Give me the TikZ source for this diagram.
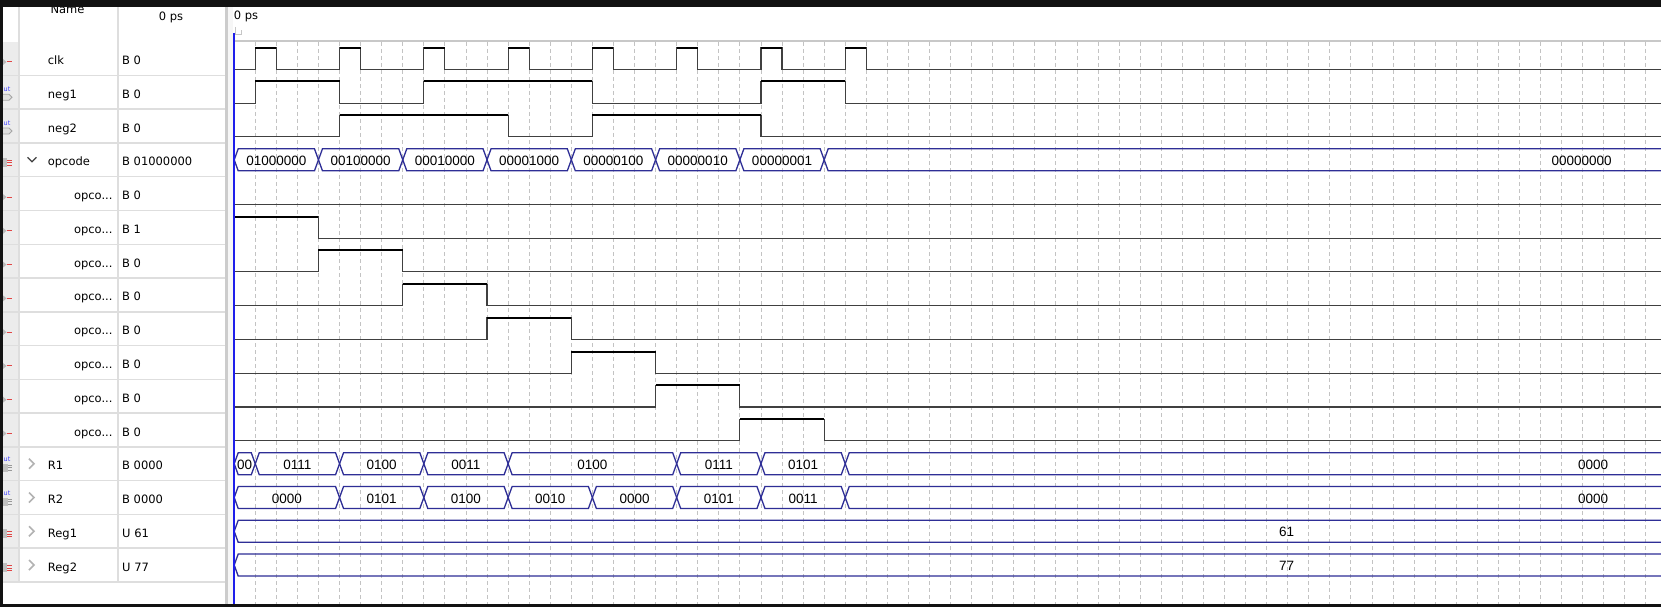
\documentclass[tikz,border=0pt]{standalone}
\usepackage{fontspec}
\setmainfont{DejaVu Sans}
\newfontfamily\wavefont{Liberation Sans}
\definecolor{busblue}{RGB}{46,46,150}
\definecolor{cursorblue}{RGB}{30,30,235}
\definecolor{gridgray}{RGB}{195,195,195}
\definecolor{sepgray}{RGB}{222,222,222}
\definecolor{icongray}{RGB}{236,236,236}
\definecolor{lowgray}{RGB}{64,64,64}
\definecolor{iconred}{RGB}{225,70,70}
\definecolor{barblack}{RGB}{18,18,18}
\tikzset{
  lowline/.style={draw=lowgray, line width=1.1pt},
  highline/.style={draw=black, line width=2pt},
  busline/.style={draw=busblue, line width=1.3pt, line join=miter},
  buslabel/.style={font=\wavefont\fontsize{13.5}{14}\selectfont, inner sep=0pt, anchor=base},
  namelabel/.style={font=\fontsize{11.5}{13}\selectfont, inner sep=0pt, anchor=base west},
  valuelabel/.style={font=\fontsize{11.5}{13}\selectfont, inner sep=0pt, anchor=base west},
  gridline/.style={draw=gridgray, line width=0.9pt, dash pattern=on 4pt off 3pt},
}
\newcommand\wave[2]{%
  \draw[lowline] ({xt(0)},{#1+10.8}) \foreach \a/\b in {#2} { -- ({xt(\a)},{#1+10.8}) -- ({xt(\a)},{#1-10.8}) -- ({xt(\b)},{#1-10.8}) -- ({xt(\b)},{#1+10.8}) } -- (1661,{#1+10.8});
  \foreach \a/\b in {#2} { \draw[highline] ({xt(\a)},{#1-10.8}) -- ({xt(\b)},{#1-10.8}); }
}
\newcommand\busseg[5]{%
  \draw[busline] ({xt(#2)},{#1}) -- ({xt(#2)+4},{#1-11}) -- ({xt(#3)-4},{#1-11}) -- ({xt(#3)},{#1}) -- ({xt(#3)-4},{#1+11}) -- ({xt(#2)+4},{#1+11}) -- cycle;
  \node[buslabel] (#5) at ({(xt(#2)+xt(#3))/2},{#1+5.6}) {#4};
}
\newcommand\busend[5]{%
  \draw[busline] (1661,{#1-11}) -- ({xt(#2)+4},{#1-11}) -- ({xt(#2)},{#1}) -- ({xt(#2)+4},{#1+11}) -- (1661,{#1+11});
  \node[buslabel] (#5) at (#4,{#1+5.6}) {#3};
}
\newcommand\icoA[1]{%
  \fill[gray!55] (3,{#1+0.5}) -- (6.5,{#1+3.5}) -- (3,{#1+6.5}) -- cycle;
  \draw[iconred, line width=1pt] (6.5,{#1+3.5}) -- (12,{#1+3.5});
}
\newcommand\icoB[2]{%
  \node[font=\fontsize{6.5}{7}\selectfont, text=blue!75, inner sep=0pt] (#2) at (7,{#1-3}) {ut};
  \draw[gray!70, line width=0.8pt, fill=gray!25] (3,{#1+2}) -- (9,{#1+2}) -- (12,{#1+5}) -- (9,{#1+8}) -- (3,{#1+8});
}
\newcommand\icoC[1]{%
  \fill[gray!50] (3,{#1-2}) rectangle (7,{#1+7});
  \foreach \d in {0.5,3,5.5} \draw[iconred, line width=0.9pt] (7,{#1+\d}) -- (12,{#1+\d});
}
\newcommand\icoD[2]{%
  \node[font=\fontsize{6.5}{7}\selectfont, text=blue!75, inner sep=0pt] (#2) at (7,{#1-4}) {ut};
  \fill[gray!50] (3,{#1}) rectangle (8,{#1+8});
  \foreach \d in {1.5,4,6.5} \draw[gray!80, line width=0.9pt] (8,{#1+\d}) -- (12,{#1+\d});
}
\begin{document}
\begin{tikzpicture}[x=1pt,y=-1pt, declare function={xt(\t)=234.2+21.07*\t;}]
\useasboundingbox (0,0) rectangle (1661,607);
\fill[white] (0,0) rectangle (1661,607);

% ---------- left panel ----------
\fill[icongray] (3,42) rectangle (19,582);
\foreach \c in {58.5,92.27,126.04,159.81,193.58,227.35,261.12,294.89,328.66,362.43,396.2,429.97,463.74,497.51,531.28,565.05}
  \draw[sepgray, line width=1.5pt] (3,{\c+16.9}) -- (225,{\c+16.9});
\draw[sepgray, line width=1.5pt] (19,7) -- (19,582);
\draw[sepgray, line width=1.5pt] (118,7) -- (118,582);
\fill[gray!40] (225,7) rectangle (227.5,604);
\fill[gray!7] (227.5,7) rectangle (233.3,604);

\node[namelabel, anchor=base] (hname) at (67.5,13.3) {Name};
\node[valuelabel, anchor=base] (hval) at (171,20.5) {0 ps};

% icons
\icoA{58.5}
\icoB{92.27}{u1}
\icoB{126.04}{u2}
\icoC{159.81}
\foreach \c in {193.58,227.35,261.12,294.89,328.66,362.43,396.2,429.97} { \icoA{\c} }
\icoD{463.74}{u3}
\icoD{497.51}{u4}
\icoC{531.28}
\icoC{565.05}

% chevrons
\draw[black!75, line width=1.3pt] (27.5,157.3) -- (32,161.8) -- (36.5,157.3);
\foreach \c in {463.74,497.51,531.28,565.05}
  \draw[gray!60, line width=1.6pt] (29,{\c-5}) -- (34,{\c}) -- (29,{\c+5});

% names and values
\node[namelabel] (nclk) at (47.7,64.6) {clk};
\node[namelabel] (nneg1) at (47.7,98.3) {neg1};
\node[namelabel] (nneg2) at (47.7,132.1) {neg2};
\node[namelabel] (nop) at (47.7,165.9) {opcode};
\foreach \c [count=\n] in {193.58,227.35,261.12,294.89,328.66,362.43,396.2,429.97}
  \node[namelabel, anchor=base east] (nb\n) at (112.7,{\c+6.1}) {opco...};
\node[namelabel] (nr1) at (47.7,469.8) {R1};
\node[namelabel] (nr2) at (47.7,503.6) {R2};
\node[namelabel] (ng1) at (47.7,537.4) {Reg1};
\node[namelabel] (ng2) at (47.7,571.1) {Reg2};

\node[valuelabel] (vclk) at (122,64.6) {B 0};
\node[valuelabel] (vneg1) at (122,98.3) {B 0};
\node[valuelabel] (vneg2) at (122,132.1) {B 0};
\node[valuelabel] (vop) at (122,165.9) {B 01000000};
\foreach \c/\v [count=\n] in {193.58/0,227.35/1,261.12/0,294.89/0,328.66/0,362.43/0,396.2/0,429.97/0}
  \node[valuelabel] (vb\n) at (122,{\c+6.1}) {B \v};
\node[valuelabel] (vr1) at (122,469.8) {B 0000};
\node[valuelabel] (vr2) at (122,503.6) {B 0000};
\node[valuelabel] (vg1) at (122,537.4) {U 61};
\node[valuelabel] (vg2) at (122,571.1) {U 77};

% ---------- waveform panel ----------
\draw[sepgray!90!black, line width=1.5pt] (233.3,41) -- (1661,41);
\foreach \k in {1,...,67}
  \draw[gridline] ({xt(\k)},42) -- ({xt(\k)},604);
\node[valuelabel] (h0) at (233.6,19.8) {0 ps};
\draw[gray!45, line width=1pt] (235.5,27) -- (235.5,34.5) -- (241,34.5) -- (241,30);

% digital signals
\wave{58.5}{1/2,5/6,9/10,13/14,17/18,21/22,25/26,29/30}
\wave{92.27}{1/5,9/17,25/29}
\wave{126.04}{5/13,17/25}
\draw[lowline] ({xt(0)},{193.58+10.8}) -- (1661,{193.58+10.8});
\wave{227.35}{0/4}
\wave{261.12}{4/8}
\wave{294.89}{8/12}
\wave{328.66}{12/16}
\wave{362.43}{16/20}
\wave{396.2}{20/24}
\wave{429.97}{24/28}

% buses
\foreach \a/\b/\l [count=\n] in {0/4/01000000,4/8/00100000,8/12/00010000,12/16/00001000,16/20/00000100,20/24/00000010,24/28/00000001}
  { \busseg{159.81}{\a}{\b}{\l}{op\n} }
\busend{159.81}{28}{00000000}{1581.7}{opend}

\foreach \a/\b/\l [count=\n] in {0/1/00,1/5/0111,5/9/0100,9/13/0011,13/21/0100,21/25/0111,25/29/0101}
  { \busseg{463.74}{\a}{\b}{\l}{ra\n} }
\busend{463.74}{29}{0000}{1593}{raend}

\foreach \a/\b/\l [count=\n] in {0/5/0000,5/9/0101,9/13/0100,13/17/0010,17/21/0000,21/25/0101,25/29/0011}
  { \busseg{497.51}{\a}{\b}{\l}{rb\n} }
\busend{497.51}{29}{0000}{1593}{rbend}

\busend{531.28}{0}{61}{1286.7}{g1}
\busend{565.05}{0}{77}{1286.7}{g2}

% cursor
\draw[cursorblue, line width=2pt] (234.3,33) -- (234.3,604);

% window frame
\fill[barblack] (0,0) rectangle (1661,7.3);
\fill[barblack] (0,604) rectangle (1661,607);
\fill[barblack] (0,0) rectangle (3,607);
\end{tikzpicture}
\end{document}
